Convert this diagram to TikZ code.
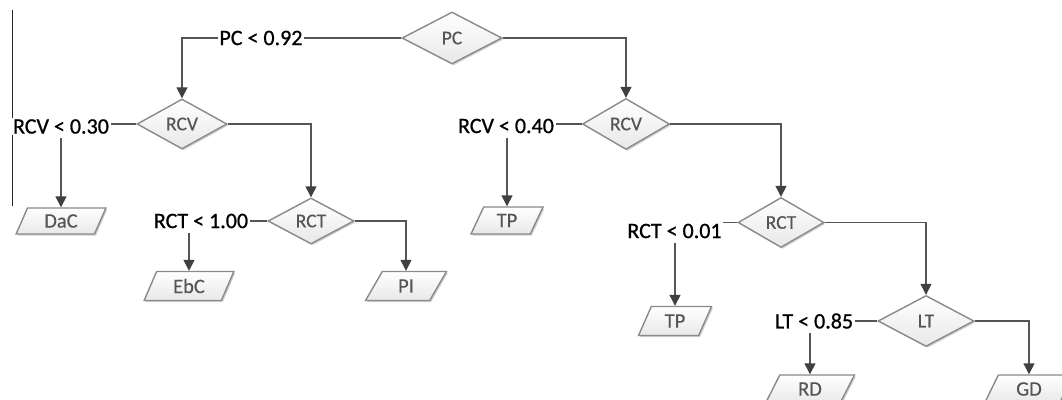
\documentclass[tikz,border=0pt]{standalone}
\usepackage{fontspec}
\setmainfont{Carlito}
\newfontfamily\labfont{Carlito}[FakeBold=0.8]
\newfontfamily\boxfont{Carlito}[FakeBold=0.4]
\usetikzlibrary{shapes.geometric,arrows.meta,shadows}
\definecolor{linec}{HTML}{555555}
\definecolor{boxc}{HTML}{8A8A8A}
\definecolor{txtc}{HTML}{555555}
\definecolor{headc}{HTML}{404040}
\tikzset{
  shad/.style={drop shadow={shadow xshift=1.5pt, shadow yshift=-1.5pt, opacity=0.18, fill=black}},
  dec/.style={diamond, draw=boxc, line width=1.4pt, top color=white, bottom color=black!9,
    inner sep=0pt, text=txtc, font=\boxfont\fontsize{19.5}{21}\selectfont, shad},
  leaf/.style={trapezium, trapezium left angle=67, trapezium right angle=113,
    trapezium stretches=true, draw=boxc, line width=1.4pt, top color=white, bottom color=black!9,
    inner sep=0pt, text=txtc, font=\boxfont\fontsize{20.5}{22}\selectfont, minimum height=28pt, shad},
  lab/.style={font=\labfont\fontsize{22}{24}\selectfont, text=black, inner sep=1.5pt, fill=white},
  conn/.style={draw=linec, line width=1.4pt},
  arr/.style={conn, -{Triangle[length=11pt,width=11pt,color=headc]}}
}
\begin{document}
\begin{tikzpicture}[x=1pt,y=-1pt]
\useasboundingbox (0,0) rectangle (1062,399);
\fill[white] (0,0) rectangle (1062,399);
% stray border line at the left
\draw[line width=0.9pt, black!85] (12,10) -- (12,206);

% decision nodes
\node[dec, minimum width=100pt, minimum height=52pt] (PC) at (452,38) {PC};
\node[dec, minimum width=90pt, minimum height=50pt] (RCV1) at (182,124) {RCV};
\node[dec, minimum width=87pt, minimum height=51pt] (RCV2) at (626,124) {RCV};
\node[dec, minimum width=86pt, minimum height=46pt] (RCT1) at (311,221) {RCT};
\node[dec, minimum width=86pt, minimum height=50pt] (RCT2) at (781,222.5) {RCT};
\node[dec, minimum width=96pt, minimum height=51pt] (LT) at (926,321) {LT};

% leaves
\node[leaf, minimum width=90pt, minimum height=26pt] (DaC) at (61,221) {DaC};
\node[leaf, minimum width=90pt, minimum height=29pt] (EbC) at (189,286) {EbC};
\node[leaf, minimum width=81pt, minimum height=29pt] (PI) at (406,286) {PI};
\node[leaf, minimum width=72pt, minimum height=27pt] (TP1) at (507,220.5) {TP};
\node[leaf, minimum width=73pt, minimum height=29pt] (TP2) at (675,321) {TP};
\node[leaf, minimum width=89pt, minimum height=28pt] (RD) at (810,389) {RD};
\node[leaf, minimum width=89pt, minimum height=28pt] (GD) at (1029,389) {GD};

% condition labels
\node[lab] (l2) at (61,126.5) {RCV < 0.30};
\node[lab] (l3) at (201,221) {RCT < 1.00};
\node[lab] (l4) at (506,126) {RCV < 0.40};
\node[lab] (l5) at (674.5,231) {RCT < 0.01};
\node[lab] (l6) at (814,321) {LT < 0.85};

% connectors
\draw[arr] (PC.west) -| (RCV1.north) node[lab, pos=0.32] (l1) {PC < 0.92};
\draw[arr] (PC.east) -| (RCV2.north);

\draw[conn] (RCV1.west) -- (RCV1.west -| l2.east);
\draw[arr] ([yshift=-3pt]l2.south -| DaC.north) -- (DaC.north);
\draw[arr] (RCV1.east) -| (RCT1.north);

\draw[conn] (RCT1.west) -- (RCT1.west -| l3.east);
\draw[arr] ([yshift=-3pt]l3.south -| EbC.north) -- (EbC.north);
\draw[arr] (RCT1.east) -| (PI.north);

\draw[conn] (RCV2.west) -- (RCV2.west -| l4.east);
\draw[arr] ([yshift=-3pt]l4.south -| TP1.north) -- (TP1.north);
\draw[arr] (RCV2.east) -| (RCT2.north);

\draw[conn] (RCT2.west) -- (RCT2.west -| l5.east);
\draw[arr] ([yshift=-3pt]l5.south -| TP2.north) -- (TP2.north);
\draw[arr] (RCT2.east) -| (LT.north);

\draw[conn] (LT.west) -- (LT.west -| l6.east);
\draw[arr] ([yshift=-3pt]l6.south -| RD.north) -- (RD.north);
\draw[arr] (LT.east) -| (GD.north);
\end{tikzpicture}
\end{document}
